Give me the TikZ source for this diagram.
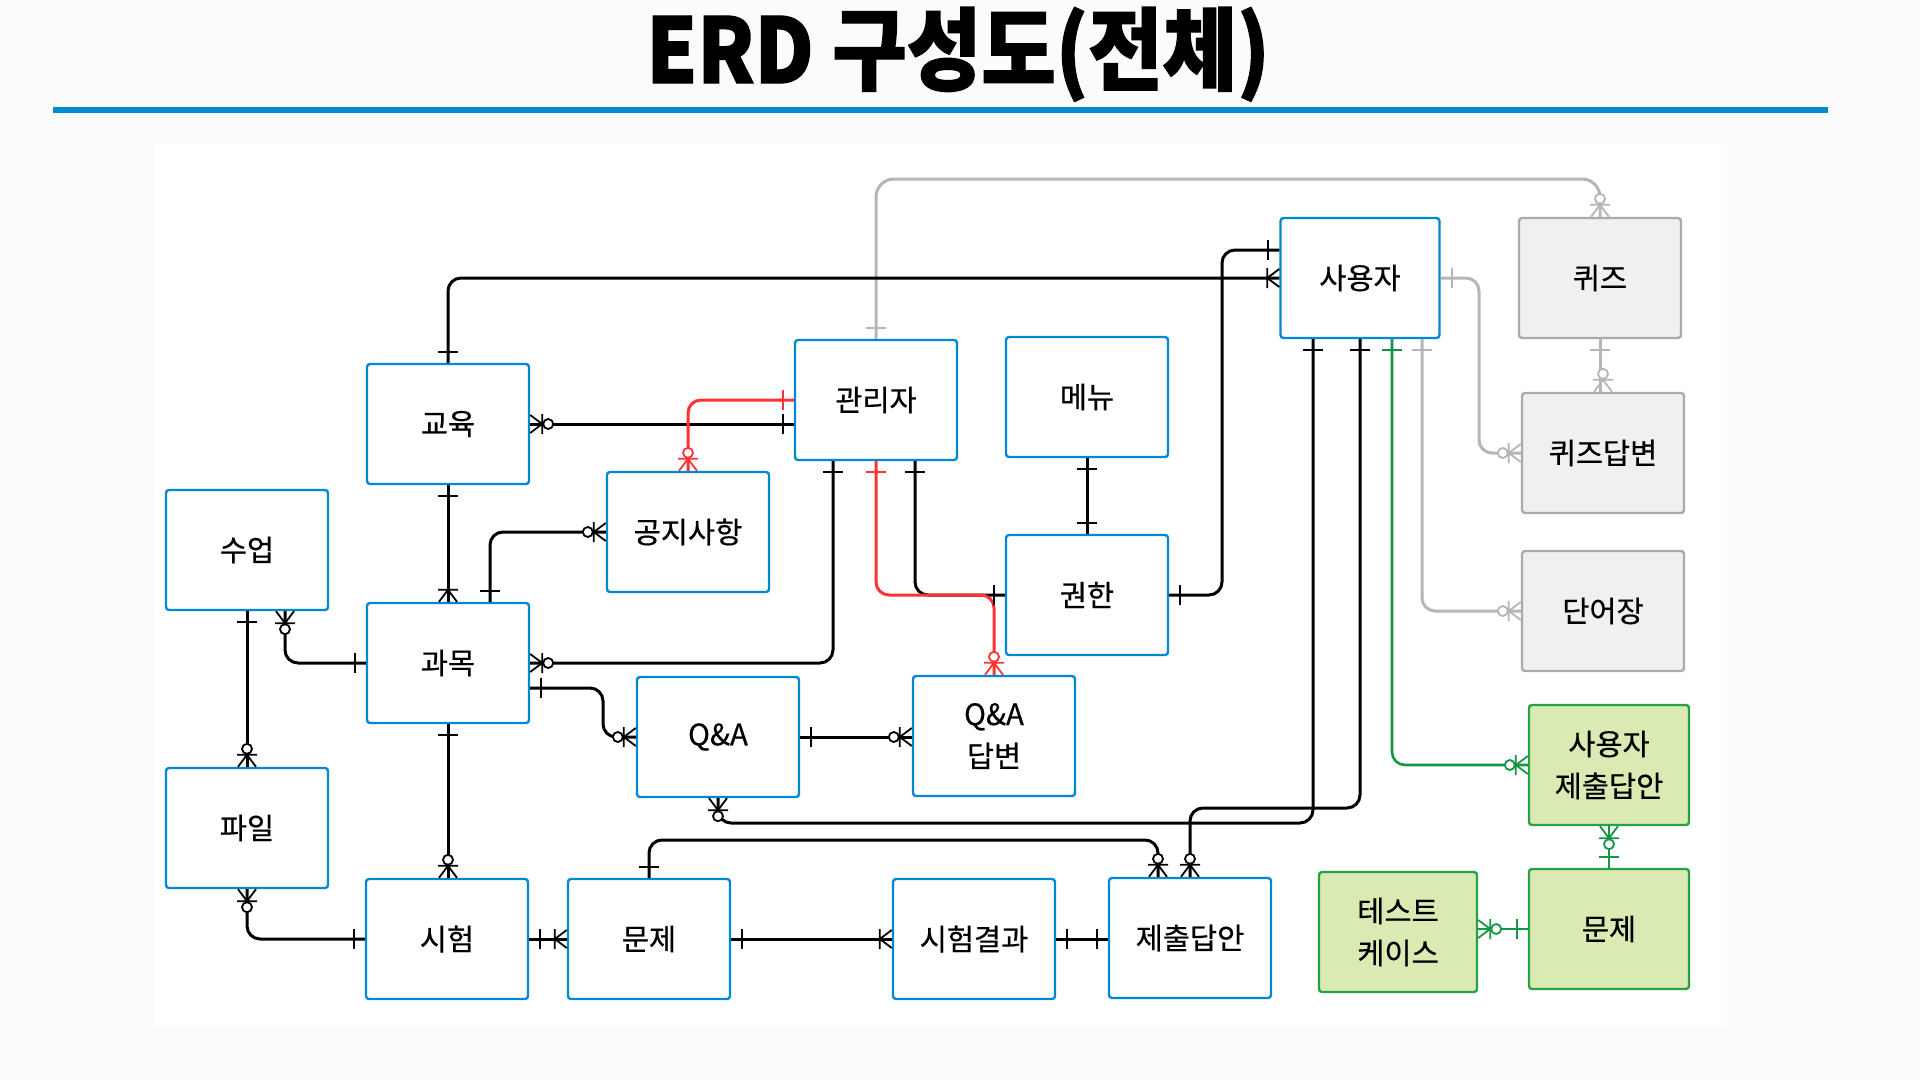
\documentclass[tikz,border=0pt]{standalone}
\usepackage{fontspec}
\setmainfont{Noto Sans CJK KR}[FakeBold=0.5]
\newfontfamily\titlefont{Noto Sans CJK KR}[FakeStretch=0.9, BoldFeatures={FakeBold=1.5}]
\usetikzlibrary{calc}
\definecolor{entblue}{RGB}{0,136,209}
\definecolor{lg}{RGB}{182,182,182}
\definecolor{gboxd}{RGB}{170,170,170}
\definecolor{gboxf}{RGB}{240,240,240}
\definecolor{rd}{RGB}{255,51,51}
\definecolor{gn}{RGB}{20,150,70}
\definecolor{gnboxf}{RGB}{217,234,179}
\definecolor{gnboxd}{RGB}{40,160,70}
\definecolor{pagebg}{RGB}{252,251,252}
\tikzset{
  ent/.style={draw=entblue, line width=2.4pt, fill=white, rounded corners=3pt,
    minimum width=162pt, minimum height=120pt, inner sep=0pt, align=center,
    font=\fontsize{29.5pt}{42pt}\selectfont},
  gent/.style={ent, draw=gboxd, fill=gboxf},
  grent/.style={ent, draw=gnboxd, fill=gnboxf},
  conn/.style={line width=3pt, rounded corners=13pt},
  gconn/.style={conn, draw=lg},
  rconn/.style={conn, draw=rd},
  grconn/.style={conn, draw=gn, line width=2.6pt},
  mk/.style={line width=1.8pt},
}
\newcommand\mkone[3][black]{\begin{scope}[shift={(#2)},rotate=#3]
  \draw[mk,draw=#1] (11,-10) -- (11,10);\end{scope}}
\newcommand\mkmany[3][black]{\begin{scope}[shift={(#2)},rotate=#3]
  \draw[mk,draw=#1] (0,-9) -- (12,0) -- (0,9) (12,-10) -- (12,10);\end{scope}}
\newcommand\mkzmany[3][black]{\begin{scope}[shift={(#2)},rotate=#3]
  \draw[mk,draw=#1] (0,-9) -- (12,0) -- (0,9) (12,-10) -- (12,10);
  \draw[mk,draw=#1,fill=white] (18,0) circle[radius=5pt];\end{scope}}
\begin{document}
\begin{tikzpicture}[x=1pt,y=-1pt]
\useasboundingbox (0,0) rectangle (1920,1080);
\fill[pagebg] (0,0) rectangle (1920,1080);
\fill[white] (154,144) rectangle (1727,1026);
\node[font=\titlefont\bfseries\fontsize{90pt}{90pt}\selectfont, anchor=base] (title) at (958,83) {ERD 구성도(전체)};
\draw[line width=6pt, entblue] (53,110) -- (1828,110);
% entities
\node[ent] (kyoyuk) at (448,424) {교육};
\node[ent] (admin) at (876,400) {관리자};
\node[ent] (menu) at (1087,397) {메뉴};
\node[ent, minimum width=159pt] (user) at (1360,278) {사용자};
\node[gent] (quiz) at (1600,278) {퀴즈};
\node[gent] (quizans) at (1603,453) {퀴즈답변};
\node[gent] (voca) at (1603,611) {단어장};
\node[ent] (class) at (247,550) {수업};
\node[ent] (notice) at (688,532) {공지사항};
\node[ent] (kwon) at (1087,595) {권한};
\node[ent] (subject) at (448,663) {과목};
\node[ent] (qa) at (718,737) {Q\&A};
\node[ent] (qaans) at (994,736) {Q\&A\\답변};
\node[grent, minimum width=160pt] (usub) at (1609,765) {사용자\\제출답안};
\node[ent] (file) at (247,828) {파일};
\node[ent] (exam) at (447,939) {시험};
\node[ent] (prob) at (649,939) {문제};
\node[ent] (result) at (974,939) {시험결과};
\node[ent] (submit) at (1190,938) {제출답안};
\node[grent, minimum width=158pt] (tc) at (1398,932) {테스트\\케이스};
\node[grent, minimum width=160pt] (prob2) at (1609,929) {문제};
% helper coordinates
\coordinate (x833) at (833,0);
\coordinate (x915) at (915,0);
\coordinate (x490) at (490,0);
\coordinate (x285) at (285,0);
\coordinate (x1158) at (1158,0);
\coordinate (x1313) at (1313,0);
\coordinate (x1392) at (1392,0);
\coordinate (x1422) at (1422,0);
\coordinate (x1479) at (1479,0);
\coordinate (y840) at (0,840);
\coordinate (y823) at (0,823);
\coordinate (y808) at (0,808);
\coordinate (k2u) at (1222,250);
\coordinate (a2q) at (876,179);
\coordinate (c14) at (603,688);
% gray connectors
\draw[gconn, rounded corners=18pt] (admin.north) -- (admin.north |- a2q) -| (quiz.north);
\draw[gconn] (user.east) -- (user.east -| x1479) |- (quizans.west);
\draw[gconn] (quiz.south) -- (quiz.south |- quizans.north);
\draw[gconn] (user.south -| x1422) |- (voca.west);
% black connectors
\draw[conn] (kyoyuk.north) |- (user.west);
\draw[conn] (kwon.east) -| (k2u) -- (k2u -| user.west);
\draw[conn] (kyoyuk.east) -- (kyoyuk.east -| admin.west);
\draw[conn] (admin.south -| x833) |- (subject.east);
\draw[conn] (admin.south -| x915) |- (kwon.west);
\draw[conn] (menu.south) -- (kwon.north);
\draw[conn] (kyoyuk.south) -- (subject.north);
\draw[conn] (notice.west) -| (subject.north -| x490);
\draw[conn] (class.south -| x285) |- (subject.west);
\draw[conn] (class.south) -- (file.north);
\draw[conn] (subject.east |- c14) -- (c14) |- (qa.west);
\draw[conn] (qa.east) -- (qa.east -| qaans.west);
\draw[conn] (subject.south) -- (subject.south |- exam.north);
\draw[conn] (file.south) |- (exam.west);
\draw[conn] (exam.east) -- (prob.west);
\draw[conn] (prob.east) -- (result.west);
\draw[conn] (result.east) -- (result.east -| submit.west);
\draw[conn] (prob.north) -- (prob.north |- y840) -| (submit.north -| x1158);
\draw[conn] (qa.south) -- (qa.south |- y823) -| (user.south -| x1313);
\draw[conn] (user.south) -- (user.south |- y808) -| (submit.north);
% red connectors
\draw[rconn] (admin.west) -| (notice.north);
\draw[rconn] (admin.south) |- (qaans.north |- kwon.west) -- (qaans.north);
% green connectors
\draw[grconn] (user.south -| x1392) |- (usub.west);
\draw[grconn] (usub.south) -- (prob2.north);
\draw[grconn] (tc.east |- prob2.west) -- (prob2.west);
% markers
\mkone{kyoyuk.north}{90} \mkmany{user.west}{180}
\mkone{kwon.east}{0} \mkone{k2u -| user.west}{180}
\mkone[lg]{admin.north}{90} \mkzmany[lg]{quiz.north}{90}
\mkzmany{kyoyuk.east}{0} \mkone{kyoyuk.east -| admin.west}{180}
\mkone[rd]{admin.west}{180} \mkzmany[rd]{notice.north}{90}
\mkone{admin.south -| x833}{270} \mkzmany{subject.east}{0}
\mkone[rd]{admin.south}{270} \mkzmany[rd]{qaans.north}{90}
\mkone{admin.south -| x915}{270} \mkone{kwon.west}{180}
\mkone{menu.south}{270} \mkone{kwon.north}{90}
\mkone{kyoyuk.south}{270} \mkmany{subject.north}{90}
\mkzmany{notice.west}{180} \mkone{subject.north -| x490}{90}
\mkzmany{class.south -| x285}{270} \mkone{subject.west}{180}
\mkone{class.south}{270} \mkzmany{file.north}{90}
\mkone{subject.east |- c14}{0} \mkzmany{qa.west}{180}
\mkone{qa.east}{0} \mkzmany{qa.east -| qaans.west}{180}
\mkone{subject.south}{270} \mkzmany{subject.south |- exam.north}{90}
\mkzmany{file.south}{270} \mkone{exam.west}{180}
\mkone{exam.east}{0} \mkmany{prob.west}{180}
\mkone{prob.east}{0} \mkmany{result.west}{180}
\mkone{result.east}{0} \mkone{result.east -| submit.west}{180}
\mkone{prob.north}{90} \mkzmany{submit.north -| x1158}{90}
\mkzmany{qa.south}{270} \mkone{user.south -| x1313}{270}
\mkone{user.south}{270} \mkzmany{submit.north}{90}
\mkone[gn]{user.south -| x1392}{270} \mkzmany[gn]{usub.west}{180}
\mkone[lg]{user.south -| x1422}{270} \mkzmany[lg]{voca.west}{180}
\mkone[lg]{user.east}{0} \mkzmany[lg]{quizans.west}{180}
\mkone[lg]{quiz.south}{270} \mkzmany[lg]{quizans.north}{90}
\mkzmany[gn]{usub.south}{270} \mkone[gn]{prob2.north}{90}
\mkzmany[gn]{tc.east |- prob2.west}{0} \mkone[gn]{prob2.west}{180}
\end{tikzpicture}
\end{document}
